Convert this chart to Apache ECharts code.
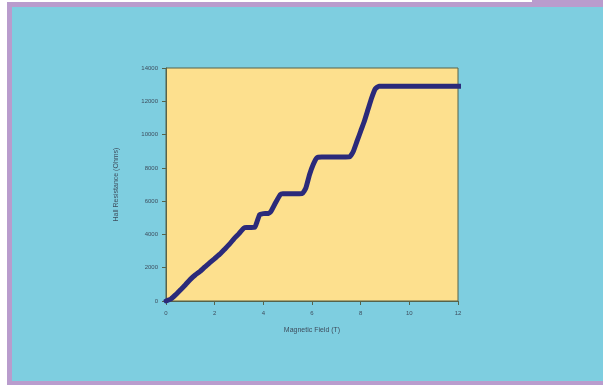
<!DOCTYPE html>
<html><head><meta charset="utf-8">
<script src="https://cdn.jsdelivr.net/npm/echarts@6/dist/echarts.min.js"></script>
<style>html,body{margin:0;padding:0;background:#fff;}#c{width:603px;height:385px;}</style>
</head><body><div id="c"></div>
<script>
var fieldT = [0,0.2,0.4,0.6,0.8,1.0,1.2,1.4,1.6,1.8,2.0,2.2,2.4,2.6,2.8,3.0,3.2,3.3,3.5,3.65,3.75,3.85,4.0,4.2,4.3,4.5,4.7,4.8,5.2,5.6,5.75,5.9,6.05,6.2,6.4,7.0,7.55,7.7,7.85,8.0,8.15,8.3,8.45,8.6,8.75,9.5,10.5,11.5,12.1];
var resistanceOhm = [0,120,380,680,980,1300,1560,1780,2050,2300,2550,2800,3100,3400,3750,4050,4380,4420,4420,4430,4800,5200,5250,5260,5350,5900,6400,6450,6450,6460,6800,7600,8200,8600,8650,8650,8660,9000,9600,10200,10800,11500,12200,12750,12900,12900,12900,12900,12900];
var xTicks = [0,2,4,6,8,10,12];
var yTicks = [0,2000,4000,6000,8000,10000,12000,14000];

var pts = fieldT.map(function(b,i){return [b,resistanceOhm[i]];});
var chart = echarts.init(document.getElementById('c'));
chart.setOption({
  animation:false,
  backgroundColor:'#ffffff',
  graphic:[
    {type:'rect',z:-10,shape:{x:7,y:2,width:596,height:383},style:{fill:'#b99ccd'}},
    {type:'rect',z:-10,shape:{x:532,y:0,width:71,height:3},style:{fill:'#b99ccd'}},
    {type:'rect',z:-9,shape:{x:12,y:7,width:591,height:374},style:{fill:'#7ecee0'}}
  ],
  grid:{left:166,right:145,top:68,bottom:84,show:true,backgroundColor:'#fde08e',borderColor:'#56634a',borderWidth:1},
  xAxis:{type:'value',min:xTicks[0],max:xTicks[xTicks.length-1],interval:xTicks[1]-xTicks[0],
    name:'Magnetic Field (T)',nameLocation:'middle',nameGap:26,
    nameTextStyle:{fontSize:7,color:'#3e4e5e',fontFamily:'Liberation Sans'},
    axisLine:{show:true,lineStyle:{color:'#56634a',width:1}},
    axisTick:{show:true,length:4,lineStyle:{color:'#56634a'}},
    axisLabel:{fontSize:6,color:'#3e4e5e',margin:9,fontFamily:'Liberation Sans'},
    splitLine:{show:false}},
  yAxis:{type:'value',min:yTicks[0],max:yTicks[yTicks.length-1],interval:yTicks[1]-yTicks[0],
    name:'Hall Resistance (Ohms)',nameLocation:'middle',nameGap:46,
    nameTextStyle:{fontSize:7,color:'#3e4e5e',fontFamily:'Liberation Sans'},
    axisLine:{show:true,lineStyle:{color:'#56634a',width:1}},
    axisTick:{show:true,length:4,lineStyle:{color:'#56634a'}},
    axisLabel:{fontSize:6,color:'#3e4e5e',margin:8,fontFamily:'Liberation Sans',formatter:function(v){return String(v);}},
    splitLine:{show:false}},
  series:[{type:'line',data:pts,showSymbol:false,smooth:0.15,clip:false,
    lineStyle:{color:'#2b2a7a',width:5,cap:'round',join:'round'}}]
});
</script></body></html>
